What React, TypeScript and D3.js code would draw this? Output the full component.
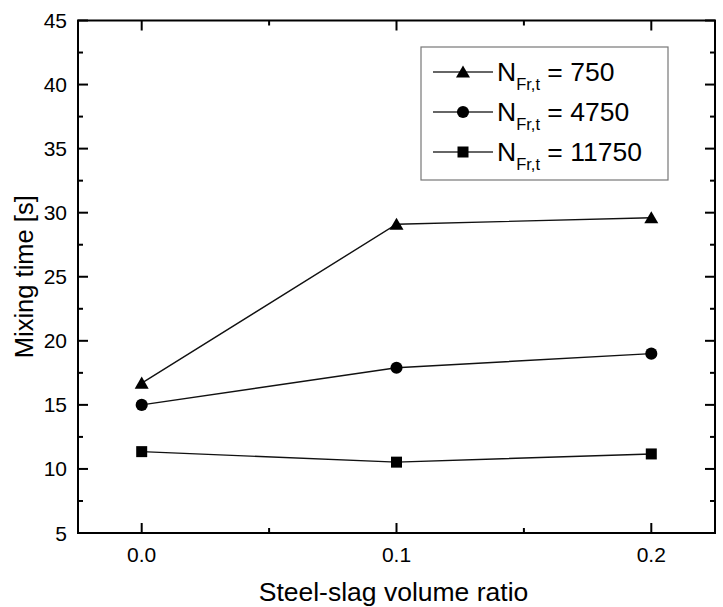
import React from "react";
import * as d3 from "d3";

const ratios = [0.0, 0.1, 0.2];
const series750 = [16.7, 29.1, 29.6];
const series4750 = [15.0, 17.9, 19.0];
const series11750 = [11.35, 10.53, 11.17];
const legendValues = ["750", "4750", "11750"];
const yTicks = [5, 10, 15, 20, 25, 30, 35, 40, 45];
const xTicks = [0.0, 0.1, 0.2];

const W = 723;
const H = 607;
const M = { left: 78, right: 8, top: 20.5, bottom: 74 };
const FONT = "'Liberation Sans', Arial, Helvetica, sans-serif";

const App = () => {
  const x = d3.scaleLinear().domain([-0.025, 0.225]).range([M.left, W - M.right]);
  const y = d3.scaleLinear().domain([5, 45]).range([H - M.bottom, M.top]);

  const line = d3
    .line<number>()
    .x((_, i) => x(ratios[i]))
    .y((d) => y(d));

  const tri = d3.symbol().type(d3.symbolTriangle).size(85)();
  const circ = d3.symbol().type(d3.symbolCircle).size(115)();
  const sq = d3.symbol().type(d3.symbolSquare).size(121)();

  const series = [
    { values: series750, shape: tri, dy: 1.5 },
    { values: series4750, shape: circ, dy: 0 },
    { values: series11750, shape: sq, dy: 0 },
  ];

  // minor ticks halfway between majors
  const minorX = [-0.05, 0.05, 0.15].filter((v) => v >= -0.025);
  const minorY = d3.range(7.5, 45, 5);

  const [x0, x1] = x.range();
  const [y0, y1] = y.range();

  return (
    <svg width={W} height={H} style={{ position: "absolute", left: 0, top: 0 }}>
      <rect width={W} height={H} fill="white" />
      {series.map((s, i) => (
        <g key={i}>
          <path d={line(s.values) ?? ""} fill="none" stroke="#111" strokeWidth={1.4} />
          {s.values.map((v, j) => (
            <path key={j} d={s.shape ?? ""} transform={`translate(${x(ratios[j])},${y(v) + s.dy})`} fill="black" />
          ))}
        </g>
      ))}

      {/* ticks */}
      <g stroke="black" strokeWidth={2}>
        {xTicks.map((t) => (
          <g key={t}>
            <line x1={x(t)} x2={x(t)} y1={y0} y2={y0 - 10} />
            <line x1={x(t)} x2={x(t)} y1={y1} y2={y1 + 10} />
          </g>
        ))}
        {minorX.map((t) => (
          <g key={t}>
            <line x1={x(t)} x2={x(t)} y1={y0} y2={y0 - 5} />
            <line x1={x(t)} x2={x(t)} y1={y1} y2={y1 + 5} />
          </g>
        ))}
        {yTicks.map((t) => (
          <g key={t}>
            <line x1={x0} x2={x0 + 10} y1={y(t)} y2={y(t)} />
            <line x1={x1} x2={x1 - 10} y1={y(t)} y2={y(t)} />
          </g>
        ))}
        {minorY.map((t) => (
          <g key={t}>
            <line x1={x0} x2={x0 + 5} y1={y(t)} y2={y(t)} />
            <line x1={x1} x2={x1 - 5} y1={y(t)} y2={y(t)} />
          </g>
        ))}
        <rect x={x0} y={y1} width={x1 - x0} height={y0 - y1} fill="none" />
      </g>

      {/* tick labels */}
      <g fontFamily={FONT} fontSize={21} fill="black">
        {yTicks.map((t) => (
          <text key={t} x={x0 - 11} y={y(t) + 7.5} textAnchor="end">
            {t}
          </text>
        ))}
        {xTicks.map((t) => (
          <text key={t} x={x(t)} y={y0 + 29} textAnchor="middle">
            {d3.format(".1f")(t)}
          </text>
        ))}
      </g>

      <text x={(x0 + x1) / 2 - 3} y={601} textAnchor="middle" fontFamily={FONT} fontSize={26.5}>
        Steel-slag volume ratio
      </text>
      <text
        transform={`translate(33,${(y0 + y1) / 2}) rotate(-90)`}
        textAnchor="middle"
        fontFamily={FONT}
        fontSize={25.5}
      >
        Mixing time [s]
      </text>

      {/* legend */}
      <g>
        <rect x={421} y={47} width={247} height={133} fill="white" stroke="#777" strokeWidth={1.2} />
        {series.map((s, i) => {
          const cy = 72 + i * 40;
          return (
            <g key={i}>
              <line x1={433} x2={493} y1={cy} y2={cy} stroke="#333" strokeWidth={1.4} />
              <path d={s.shape ?? ""} transform={`translate(463,${cy + s.dy})`} fill="black" />
              <text x={497} y={cy + 8.5} fontFamily={FONT} fontSize={26.5}>
                N
                <tspan fontSize={16.5} dy={9}>
                  Fr,t
                </tspan>
                <tspan dy={-9}> = {legendValues[i]}</tspan>
              </text>
            </g>
          );
        })}
      </g>
    </svg>
  );
};

export default App;
